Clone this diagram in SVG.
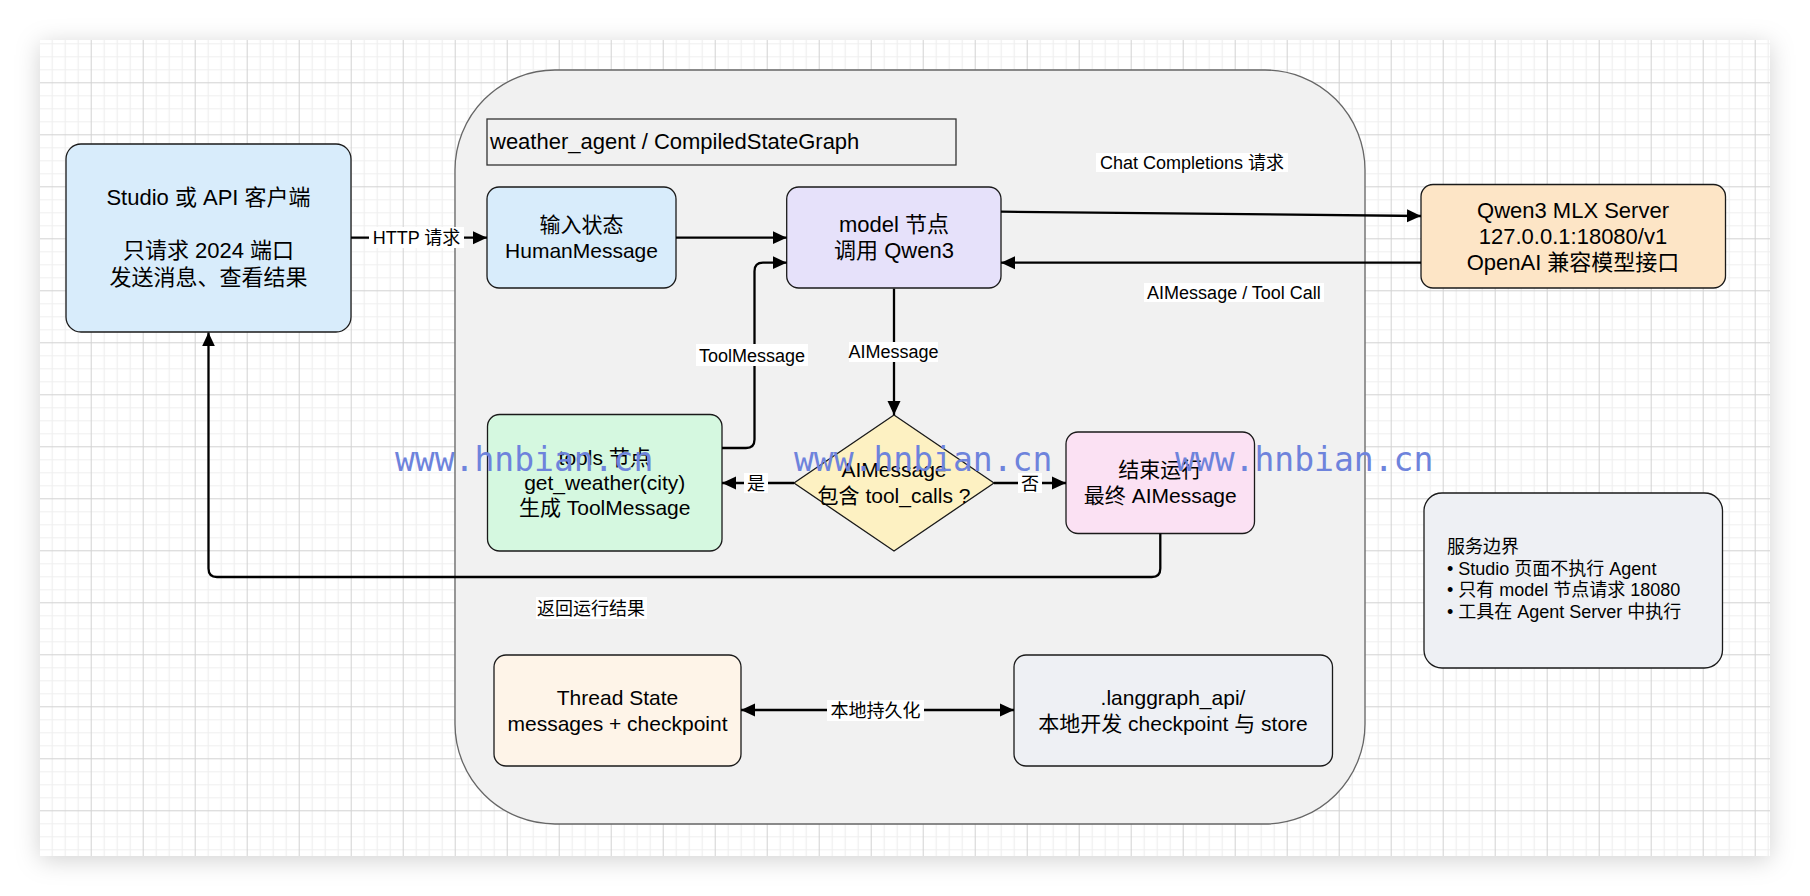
<svg xmlns="http://www.w3.org/2000/svg" width="1810" height="896" viewBox="0 0 1810 896">
<defs>
<style>
.t{font-family:"Liberation Sans","Noto Sans CJK SC",sans-serif;fill:#000;}
.n20{font-size:21px;text-anchor:middle;}
.n21{font-size:22px;text-anchor:middle;}
.n22{font-size:22px;text-anchor:middle;}
.lb{font-size:18px;text-anchor:middle;}
.node{stroke:#1a1a1a;stroke-width:1.3;}
.conn{fill:none;stroke:#000;stroke-width:2.3;}
.lbg{fill:#fff;}
.wm{font-family:"DejaVu Sans Mono",monospace;font-size:33px;fill:#6e83dc;}
</style>
<pattern id="grid" x="38.7" y="30.3" width="52" height="52" patternUnits="userSpaceOnUse">
<rect width="52" height="52" fill="#fff"/>
<path d="M13.5,0V52M26.5,0V52M39.5,0V52M0,13.5H52M0,26.5H52M0,39.5H52" stroke="#efefef" stroke-width="1.2"/>
<path d="M0.5,0V52M0,0.5H52" stroke="#d2d2d2" stroke-width="1"/>
</pattern>
<filter id="sh" x="-5%" y="-5%" width="110%" height="115%">
<feDropShadow dx="0" dy="4" stdDeviation="12" flood-color="#000" flood-opacity="0.18"/>
</filter>
<marker id="ah" markerUnits="userSpaceOnUse" markerWidth="14" markerHeight="14" viewBox="0 0 14 14" refX="14" refY="7" orient="auto-start-reverse">
<path d="M0,0.5 L14,7 L0,13.5 z" fill="#000"/>
</marker>
</defs>
<rect width="1810" height="896" fill="#fff"/>
<rect x="40" y="40" width="1730" height="816" fill="url(#grid)" filter="url(#sh)"/>

<g id="container">
<rect x="455" y="70" width="910" height="754" rx="100" ry="100" fill="#f1f1f1" stroke="#666" stroke-width="1.3"/>
</g>
<g id="title">
<rect x="487" y="119" width="469" height="46" fill="none" stroke="#333" stroke-width="1.3"/>
<text class="t" x="490" y="149" font-size="22">weather_agent / CompiledStateGraph</text>
</g>

<g id="client">
<rect class="node" x="66" y="144" width="285" height="188" rx="15" fill="#d8ecfb"/>
<text class="t n22" x="208.5" y="204.5">Studio 或 API 客户端</text>
<text class="t n22" x="208.5" y="258">只请求 2024 端口</text>
<text class="t n22" x="208.5" y="284.5">发送消息、查看结果</text>
</g>

<g id="input">
<rect class="node" x="487" y="187" width="189" height="101" rx="12" fill="#d8ecfb"/>
<text class="t n20" x="581.5" y="231.5">输入状态</text>
<text class="t n20" x="581.5" y="257.5">HumanMessage</text>
</g>

<g id="model">
<rect class="node" x="786.7" y="187" width="214.3" height="101" rx="12" fill="#e6e1fa"/>
<text class="t n21" x="894" y="231.5">model 节点</text>
<text class="t n21" x="894" y="257.5">调用 Qwen3</text>
</g>

<g id="qwen">
<rect class="node" x="1421" y="184.5" width="304.5" height="103.5" rx="12" fill="#fde5c6"/>
<text class="t n21" x="1573" y="217.5">Qwen3 MLX Server</text>
<text class="t n21" x="1573" y="243.5">127.0.0.1:18080/v1</text>
<text class="t n21" x="1573" y="269.5">OpenAI 兼容模型接口</text>
</g>

<g id="tools">
<rect class="node" x="487.5" y="414.5" width="234.5" height="136.5" rx="12" fill="#d5f8e0"/>
<text class="t n20" x="604.7" y="465">tools 节点</text>
<text class="t n20" x="604.7" y="490">get_weather(city)</text>
<text class="t n20" x="604.7" y="515">生成 ToolMessage</text>
</g>

<g id="decision">
<polygon class="node" points="894,415 994,483 894,551 794,483" fill="#fdf1c2"/>
<text class="t n20" x="894" y="477">AIMessage</text>
<text class="t n20" x="894" y="503">包含 tool_calls ?</text>
</g>

<g id="end">
<rect class="node" x="1066" y="432" width="188.5" height="101.5" rx="12" fill="#fbe1f3"/>
<text class="t n20" x="1160.3" y="477">结束运行</text>
<text class="t n20" x="1160.3" y="503">最终 AIMessage</text>
</g>

<g id="thread">
<rect class="node" x="494" y="655" width="247" height="111" rx="12" fill="#fef4e8"/>
<text class="t n20" x="617.5" y="704.5">Thread State</text>
<text class="t n20" x="617.5" y="730.5">messages + checkpoint</text>
</g>

<g id="langgraph">
<rect class="node" x="1014" y="655" width="318.5" height="111" rx="12" fill="#eef0f4"/>
<text class="t n20" x="1173" y="704.5">.langgraph_api/</text>
<text class="t n20" x="1173" y="730.5">本地开发 checkpoint 与 store</text>
</g>

<g id="boundary">
<rect class="node" x="1424" y="493" width="298.5" height="175" rx="18" fill="#eef0f4"/>
<text class="t" x="1447" y="553" font-size="18">服务边界</text>
<text class="t" x="1447" y="574.6" font-size="18">• Studio 页面不执行 Agent</text>
<text class="t" x="1447" y="596.3" font-size="18">• 只有 model 节点请求 18080</text>
<text class="t" x="1447" y="618" font-size="18">• 工具在 Agent Server 中执行</text>
</g>

<g id="connectors">
<path class="conn" d="M351,237.7 H487" marker-end="url(#ah)"/>
<path class="conn" d="M676,237.7 H786.7" marker-end="url(#ah)"/>
<path class="conn" d="M1001,211.7 L1421,216" marker-end="url(#ah)"/>
<path class="conn" d="M1421,262.7 H1001" marker-end="url(#ah)"/>
<path class="conn" d="M894,288.7 V415" marker-end="url(#ah)"/>
<path class="conn" d="M794,483 H722" marker-end="url(#ah)"/>
<path class="conn" d="M994,483 H1066" marker-end="url(#ah)"/>
<path class="conn" d="M722,448 H746 Q754.5,448 754.5,439.5 V271.2 Q754.5,262.7 763,262.7 H786.7" marker-end="url(#ah)"/>
<path class="conn" d="M1160.3,533.5 V568.5 Q1160.3,577 1151.8,577 H217 Q208.5,577 208.5,568.5 V332.4" marker-end="url(#ah)"/>
<path class="conn" d="M741,710 H1014" marker-start="url(#ah)" marker-end="url(#ah)"/>

<rect class="lbg" x="369" y="227" width="95" height="21"/>
<text class="t lb" x="416.5" y="244">HTTP 请求</text>
<rect class="lbg" x="1096" y="153" width="192" height="19"/>
<text class="t lb" x="1192" y="169">Chat Completions 请求</text>
<rect class="lbg" x="1144" y="283" width="180" height="19"/>
<text class="t lb" x="1234" y="298.5">AIMessage / Tool Call</text>
<rect class="lbg" x="696" y="344" width="112" height="22"/>
<text class="t lb" x="752" y="361.5">ToolMessage</text>
<rect class="lbg" x="849" y="342" width="89" height="20"/>
<text class="t lb" x="893.5" y="358">AIMessage</text>
<rect class="lbg" x="744" y="473" width="24" height="20"/>
<text class="t lb" x="756" y="489.5">是</text>
<rect class="lbg" x="1018" y="473" width="24" height="20"/>
<text class="t lb" x="1030" y="489.5">否</text>
<rect class="lbg" x="536" y="597" width="111" height="22"/>
<text class="t lb" x="591" y="614.5">返回运行结果</text>
<rect class="lbg" x="827" y="700" width="97" height="21"/>
<text class="t lb" x="875.5" y="717">本地持久化</text>
</g>

<g id="watermark">
<text class="wm" x="395" y="470.7">www.hnbian.cn</text>
<text class="wm" x="794" y="470.7">www.hnbian.cn</text>
<text class="wm" x="1175" y="470.7">www.hnbian.cn</text>
</g>
</svg>
